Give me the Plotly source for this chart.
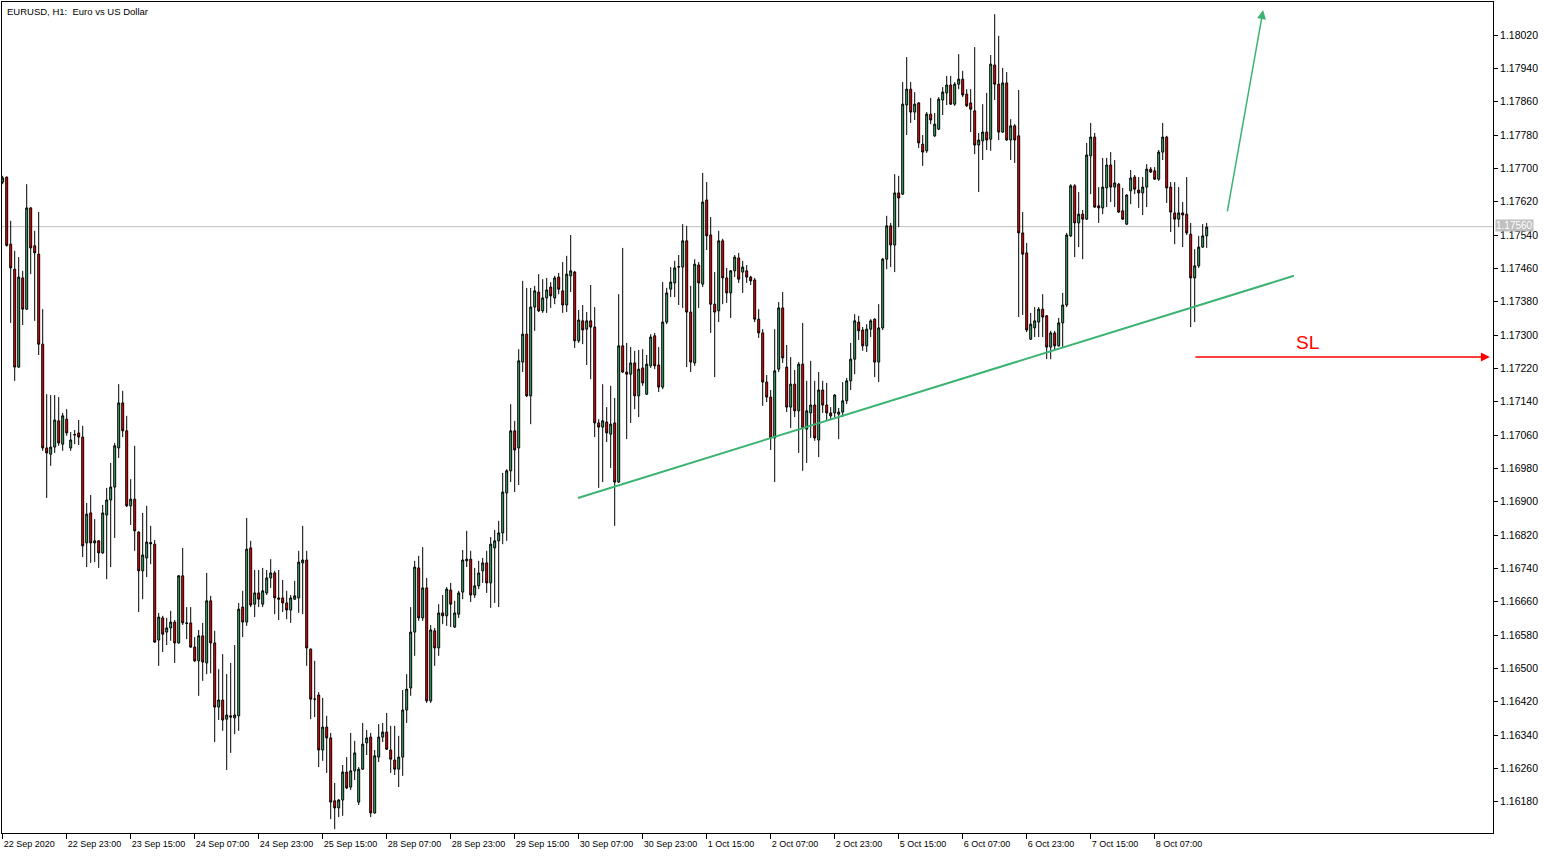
import pandas as pd
import plotly.graph_objects as go

# ---------------- data (EURUSD H1) ----------------
open_ = [1.17667,1.17679,1.17518,1.17458,1.17223,1.17437,1.17362,1.17605,1.17514,1.17494,
1.17278,1.17029,1.17014,1.17031,1.17094,1.17038,1.17098,1.17029,1.17060,1.17065,
1.17055,1.16801,1.16873,1.16801,1.16806,1.16777,1.16868,1.16904,1.16935,1.17029,
1.17137,1.17070,1.16890,1.16906,1.16827,1.16734,1.16765,1.16802,1.16798,1.16568,
1.16621,1.16587,1.16597,1.16611,1.16561,1.16722,1.16609,1.16609,1.16551,1.16518,
1.16578,1.16513,1.16662,1.16561,1.16407,1.16424,1.16378,1.16386,1.16381,1.16386,
1.16647,1.16611,1.16789,1.16654,1.16681,1.16654,1.16681,1.16717,1.16729,1.16669,
1.16669,1.16657,1.16640,1.16666,1.16669,1.16753,1.16760,1.16546,1.16426,1.16436,
1.16304,1.16359,1.16333,1.16182,1.16165,1.16184,1.16251,1.16215,1.16254,1.16179,
1.16258,1.16321,1.16335,1.16153,1.16287,1.16335,1.16347,1.16304,1.16280,1.16258,
1.16287,1.16400,1.16453,1.16587,1.16741,1.16621,1.16693,1.16422,1.16590,1.16549,
1.16633,1.16626,1.16688,1.16599,1.16630,1.16683,1.16758,1.16762,1.16676,1.16698,
1.16734,1.16753,1.16705,1.16789,1.16806,1.16825,1.16921,1.16974,1.17070,1.17029,
1.17235,1.17302,1.17154,1.17367,1.17403,1.17358,1.17389,1.17415,1.17389,1.17439,
1.17406,1.17372,1.17442,1.17451,1.17286,1.17334,1.17314,1.17334,1.17319,1.17089,
1.17079,1.17091,1.17062,1.17089,1.16947,1.17274,1.17211,1.17206,1.17233,1.17154,
1.17221,1.17158,1.17226,1.17298,1.17228,1.17175,1.17331,1.17410,1.17425,1.17463,
1.17463,1.17526,1.17355,1.17233,1.17468,1.17422,1.17624,1.17540,1.17374,1.17358,
1.17526,1.17437,1.17401,1.17454,1.17485,1.17451,1.17454,1.17439,1.17432,1.17338,
1.17305,1.17187,1.17151,1.17053,1.17218,1.17365,1.17223,1.17127,1.17182,1.17118,
1.17230,1.17074,1.17113,1.17132,1.17048,1.17168,1.17132,1.17113,1.17113,1.17110,
1.17115,1.17142,1.17190,1.17242,1.17331,1.17312,1.17274,1.17314,1.17338,1.17235,
1.17317,1.17482,1.17562,1.17516,1.17641,1.17638,1.17852,1.17890,1.17835,1.17857,
1.17758,1.17742,1.17830,1.17778,1.17794,1.17864,1.17881,1.17900,1.17854,1.17902,
1.17914,1.17878,1.17857,1.17838,1.17756,1.17766,1.17787,1.17770,1.17948,1.17902,
1.17787,1.17905,1.17768,1.17802,1.17778,1.17545,1.17497,1.17290,1.17317,1.17331,
1.17362,1.17346,1.17271,1.17305,1.17274,1.17329,1.17372,1.17538,1.17658,1.17569,
1.17590,1.17578,1.17730,1.17775,1.17610,1.17605,1.17653,1.17708,1.17655,1.17662,
1.17598,1.17566,1.17646,1.17679,1.17648,1.17641,1.17655,1.17698,1.17694,1.17674,
1.17739,1.17775,1.17655,1.17593,1.17578,1.17593,1.17590,1.17542,1.17437,1.17466,
1.17511,1.17538]

high = [1.17682,1.17680,1.17574,1.17502,1.17487,1.17454,1.17662,1.17607,1.17550,1.17595,
1.17362,1.17158,1.17156,1.17156,1.17151,1.17113,1.17122,1.17067,1.17072,1.17096,
1.17082,1.16897,1.16916,1.16858,1.16808,1.16892,1.16933,1.16993,1.17041,1.17182,
1.17166,1.17106,1.16954,1.17034,1.16829,1.16873,1.16890,1.16842,1.16808,1.16633,
1.16626,1.16621,1.16638,1.16616,1.16724,1.16789,1.16647,1.16647,1.16575,1.16592,
1.16609,1.16729,1.16674,1.16590,1.16498,1.16534,1.16486,1.16513,1.16556,1.16657,
1.16686,1.16861,1.16806,1.16736,1.16736,1.16741,1.16736,1.16762,1.16734,1.16736,
1.16712,1.16686,1.16676,1.16710,1.16782,1.16842,1.16782,1.16548,1.16518,1.16443,
1.16429,1.16386,1.16345,1.16225,1.16186,1.16268,1.16287,1.16345,1.16326,1.16263,
1.16369,1.16352,1.16345,1.16304,1.16366,1.16369,1.16393,1.16362,1.16362,1.16338,
1.16448,1.16486,1.16647,1.16758,1.16770,1.16791,1.16717,1.16604,1.16597,1.16654,
1.16676,1.16695,1.16705,1.16662,1.16686,1.16784,1.16830,1.16782,1.16741,1.16758,
1.16765,1.16782,1.16815,1.16832,1.16854,1.16969,1.16978,1.17134,1.17094,1.17266,
1.17430,1.17413,1.17413,1.17418,1.17446,1.17434,1.17437,1.17427,1.17442,1.17449,
1.17475,1.17490,1.17540,1.17454,1.17360,1.17372,1.17355,1.17420,1.17367,1.17098,
1.17182,1.17127,1.17178,1.17149,1.17398,1.17509,1.17281,1.17271,1.17262,1.17264,
1.17266,1.17252,1.17302,1.17305,1.17271,1.17427,1.17413,1.17463,1.17478,1.17492,
1.17566,1.17562,1.17418,1.17482,1.17475,1.17689,1.17667,1.17583,1.17451,1.17550,
1.17531,1.17461,1.17456,1.17492,1.17497,1.17478,1.17468,1.17442,1.17437,1.17362,
1.17314,1.17204,1.17168,1.17314,1.17379,1.17403,1.17276,1.17247,1.17216,1.17235,
1.17329,1.17190,1.17238,1.17190,1.17211,1.17190,1.17185,1.17127,1.17158,1.17125,
1.17187,1.17197,1.17281,1.17350,1.17346,1.17319,1.17326,1.17338,1.17340,1.17374,
1.17485,1.17586,1.17569,1.17686,1.17682,1.17907,1.17967,1.17907,1.17883,1.17859,
1.17780,1.17835,1.17869,1.17833,1.17871,1.17895,1.17922,1.17922,1.17907,1.17974,
1.17934,1.17890,1.17890,1.17991,1.17785,1.17854,1.17881,1.17972,1.18070,1.18018,
1.17941,1.17931,1.17818,1.17806,1.17888,1.17595,1.17521,1.17353,1.17367,1.17367,
1.17398,1.17348,1.17310,1.17310,1.17341,1.17401,1.17545,1.17662,1.17662,1.17643,
1.17600,1.17761,1.17809,1.17785,1.17655,1.17725,1.17725,1.17739,1.17720,1.17665,
1.17653,1.17638,1.17696,1.17684,1.17679,1.17679,1.17710,1.17703,1.17703,1.17744,
1.17809,1.17778,1.17667,1.17667,1.17655,1.17619,1.17679,1.17569,1.17506,1.17538,
1.17566,1.17569]

low = [1.17662,1.17512,1.17329,1.17190,1.17221,1.17324,1.17360,1.17446,1.17334,1.17252,
1.17022,1.16909,1.16986,1.17017,1.17034,1.17022,1.17058,1.17022,1.17038,1.17036,
1.16767,1.16743,1.16753,1.16755,1.16741,1.16775,1.16714,1.16743,1.16813,1.17005,
1.17055,1.16887,1.16844,1.16782,1.16635,1.16666,1.16719,1.16750,1.16561,1.16506,
1.16539,1.16556,1.16566,1.16513,1.16559,1.16604,1.16570,1.16549,1.16515,1.16434,
1.16470,1.16486,1.16488,1.16323,1.16376,1.16350,1.16256,1.16297,1.16342,1.16350,
1.16575,1.16602,1.16647,1.16623,1.16647,1.16647,1.16676,1.16693,1.16630,1.16616,
1.16635,1.16618,1.16609,1.16664,1.16633,1.16630,1.16506,1.16378,1.16383,1.16263,
1.16278,1.16249,1.16138,1.16114,1.16143,1.16146,1.16210,1.16208,1.16232,1.16172,
1.16256,1.16292,1.16143,1.16151,1.16275,1.16323,1.16304,1.16249,1.16244,1.16215,
1.16242,1.16369,1.16434,1.16530,1.16614,1.16614,1.16417,1.16417,1.16506,1.16530,
1.16606,1.16602,1.16599,1.16597,1.16621,1.16666,1.16743,1.16659,1.16669,1.16690,
1.16705,1.16681,1.16645,1.16657,1.16647,1.16798,1.16806,1.16947,1.16923,1.16940,
1.17211,1.17151,1.17086,1.17310,1.17355,1.17353,1.17353,1.17365,1.17374,1.17398,
1.17353,1.17355,1.17403,1.17269,1.17281,1.17278,1.17228,1.17194,1.17055,1.16933,
1.16947,1.17043,1.16981,1.16842,1.16945,1.17209,1.17050,1.17089,1.17122,1.17103,
1.17178,1.17156,1.17221,1.17218,1.17163,1.17170,1.17326,1.17391,1.17391,1.17372,
1.17365,1.17223,1.17211,1.17226,1.17365,1.17415,1.17504,1.17305,1.17199,1.17331,
1.17374,1.17377,1.17341,1.17439,1.17425,1.17401,1.17425,1.17420,1.17331,1.17293,
1.17130,1.17139,1.17024,1.16947,1.17211,1.17233,1.17115,1.17077,1.17103,1.17017,
1.16974,1.16993,1.17053,1.17046,1.17007,1.17113,1.17096,1.17096,1.17103,1.17050,
1.17103,1.17134,1.17168,1.17206,1.17288,1.17262,1.17259,1.17295,1.17199,1.17187,
1.17312,1.17458,1.17463,1.17451,1.17559,1.17636,1.17780,1.17809,1.17816,1.17749,
1.17706,1.17737,1.17806,1.17775,1.17792,1.17828,1.17852,1.17852,1.17850,1.17890,
1.17871,1.17847,1.17787,1.17734,1.17643,1.17720,1.17744,1.17742,1.17864,1.17768,
1.17785,1.17766,1.17720,1.17713,1.17343,1.17348,1.17307,1.17288,1.17295,1.17295,
1.17295,1.17242,1.17242,1.17264,1.17272,1.17269,1.17367,1.17535,1.17487,1.17511,
1.17482,1.17576,1.17638,1.17605,1.17569,1.17590,1.17607,1.17619,1.17607,1.17593,
1.17576,1.17564,1.17614,1.17638,1.17605,1.17588,1.17607,1.17689,1.17672,1.17670,
1.17720,1.17617,1.17547,1.17518,1.17559,1.17511,1.17540,1.17319,1.17331,1.17461,
1.17509,1.17509]

close = [1.17677,1.17515,1.17461,1.17223,1.17439,1.17362,1.17605,1.17509,1.17497,1.17278,
1.17029,1.17017,1.17031,1.17096,1.17041,1.17106,1.17065,1.17048,1.17061,1.17055,
1.16794,1.16870,1.16801,1.16806,1.16777,1.16873,1.16904,1.16935,1.17034,1.17137,
1.17070,1.16890,1.16906,1.16830,1.16734,1.16772,1.16803,1.16799,1.16563,1.16623,
1.16582,1.16597,1.16611,1.16561,1.16722,1.16609,1.16608,1.16551,1.16518,1.16578,
1.16515,1.16662,1.16561,1.16407,1.16424,1.16376,1.16388,1.16383,1.16388,1.16642,
1.16611,1.16786,1.16652,1.16681,1.16666,1.16686,1.16717,1.16729,1.16669,1.16666,
1.16657,1.16640,1.16669,1.16674,1.16755,1.16760,1.16549,1.16426,1.16426,1.16304,
1.16359,1.16333,1.16179,1.16165,1.16184,1.16251,1.16213,1.16254,1.16297,1.16258,
1.16318,1.16333,1.16153,1.16290,1.16335,1.16347,1.16306,1.16282,1.16258,1.16287,
1.16400,1.16450,1.16587,1.16743,1.16621,1.16693,1.16422,1.16592,1.16549,1.16633,
1.16626,1.16690,1.16654,1.16633,1.16681,1.16760,1.16762,1.16676,1.16698,1.16729,
1.16753,1.16705,1.16798,1.16806,1.16825,1.16923,1.16974,1.17070,1.17024,1.17238,
1.17302,1.17154,1.17367,1.17406,1.17358,1.17389,1.17408,1.17394,1.17437,1.17410,
1.17372,1.17446,1.17454,1.17286,1.17336,1.17312,1.17334,1.17319,1.17089,1.17079,
1.17094,1.17065,1.17086,1.16947,1.17274,1.17211,1.17206,1.17233,1.17154,1.17218,
1.17185,1.17230,1.17295,1.17226,1.17175,1.17331,1.17401,1.17427,1.17461,1.17464,
1.17526,1.17355,1.17235,1.17470,1.17425,1.17619,1.17538,1.17374,1.17355,1.17526,
1.17437,1.17401,1.17454,1.17487,1.17434,1.17463,1.17439,1.17430,1.17338,1.17305,
1.17187,1.17151,1.17053,1.17214,1.17365,1.17245,1.17127,1.17182,1.17118,1.17230,
1.17077,1.17118,1.17132,1.17053,1.17168,1.17132,1.17113,1.17106,1.17156,1.17115,
1.17142,1.17190,1.17242,1.17334,1.17310,1.17274,1.17314,1.17334,1.17235,1.17317,
1.17482,1.17562,1.17516,1.17641,1.17629,1.17854,1.17890,1.17835,1.17854,1.17761,
1.17739,1.17830,1.17816,1.17806,1.17866,1.17883,1.17900,1.17854,1.17902,1.17914,
1.17876,1.17850,1.17842,1.17756,1.17768,1.17787,1.17768,1.17950,1.17902,1.17787,
1.17905,1.17768,1.17802,1.17768,1.17545,1.17494,1.17312,1.17326,1.17334,1.17362,
1.17343,1.17271,1.17305,1.17274,1.17329,1.17372,1.17540,1.17658,1.17569,1.17590,
1.17578,1.17732,1.17775,1.17607,1.17605,1.17655,1.17708,1.17655,1.17665,1.17595,
1.17578,1.17636,1.17677,1.17650,1.17641,1.17655,1.17698,1.17691,1.17674,1.17739,
1.17775,1.17653,1.17595,1.17578,1.17593,1.17588,1.17545,1.17437,1.17466,1.17511,
1.17538,1.17559]

tick_text = ["22 Sep 2020", "22 Sep 23:00", "23 Sep 15:00", "24 Sep 07:00", "24 Sep 23:00",
             "25 Sep 15:00", "28 Sep 07:00", "28 Sep 23:00", "29 Sep 15:00", "30 Sep 07:00",
             "30 Sep 23:00", "1 Oct 15:00", "2 Oct 07:00", "2 Oct 23:00", "5 Oct 15:00",
             "6 Oct 07:00", "6 Oct 23:00", "7 Oct 15:00", "8 Oct 07:00"]
price_ticks = [1.16180, 1.16260, 1.16340, 1.16420, 1.16500, 1.16580, 1.16660, 1.16740,
               1.16820, 1.16900, 1.16980, 1.17060, 1.17140, 1.17220, 1.17300, 1.17380,
               1.17460, 1.17540, 1.17620, 1.17700, 1.17780, 1.17860, 1.17940, 1.18020]
current_price = 1.17560

# drawing objects on the chart (bar index, price)
trend_start = (143.8, 1.16909)
trend_end = (322.8, 1.17442)
up_arrow_tail = (306.1, 1.17593)
up_arrow_head = (315.1, 1.18080)
sl_arrow_tail = (297.8, 1.17247)
sl_arrow_head = (371.8, 1.17247)
sl_label_pos = (326.1, 1.17281)

# hourly bars, weekends removed
all_hours = pd.date_range("2020-09-22 07:00", "2020-10-08 20:00", freq="h")
bar_times = all_hours[all_hours.dayofweek < 5].strftime("%Y-%m-%d %H:%M").tolist()
n = min(len(bar_times), len(close))
bar_times = bar_times[:n]

GREEN = "#3CB371"
RED = "#FF0000"
FONT = "Liberation Sans, Arial, sans-serif"

fig = go.Figure()
fig.add_trace(go.Candlestick(
    x=bar_times, open=open_[:n], high=high[:n], low=low[:n], close=close[:n],
    increasing=dict(line=dict(color="black", width=1), fillcolor=GREEN),
    decreasing=dict(line=dict(color="black", width=1), fillcolor=RED),
    whiskerwidth=0, showlegend=False, hoverinfo="skip",
))

shapes = [
    dict(type="line", xref="paper", x0=0, x1=1, yref="y", y0=current_price, y1=current_price,
         line=dict(color="#C0C0C0", width=1), layer="below"),
    dict(type="line", xref="x", yref="y", x0=trend_start[0], y0=trend_start[1],
         x1=trend_end[0], y1=trend_end[1], line=dict(color=GREEN, width=2)),
]

annotations = [
    dict(xref="paper", yref="paper", x=0, y=1, xshift=3, yshift=-2, xanchor="left", yanchor="top",
         text="EURUSD, H1: \u00a0Euro vs US Dollar", showarrow=False,
         font=dict(family=FONT, size=9.5, color="black")),
    dict(xref="x", yref="y", x=up_arrow_head[0], y=up_arrow_head[1],
         axref="x", ayref="y", ax=up_arrow_tail[0], ay=up_arrow_tail[1],
         showarrow=True, arrowhead=2, arrowsize=1.2, arrowwidth=1.5, arrowcolor=GREEN, text=""),
    dict(xref="x", yref="y", x=sl_arrow_head[0], y=sl_arrow_head[1],
         axref="x", ayref="y", ax=sl_arrow_tail[0], ay=sl_arrow_tail[1],
         showarrow=True, arrowhead=2, arrowsize=1.2, arrowwidth=1.5, arrowcolor=RED, text=""),
    dict(xref="x", yref="y", x=sl_label_pos[0], y=sl_label_pos[1], text="SL", showarrow=False,
         font=dict(family=FONT, size=19, color=RED)),
    dict(xref="paper", yref="y", x=1, y=current_price, xanchor="left", xshift=2, yshift=1,
         text="%.5f" % current_price, showarrow=False, bgcolor="#C0C0C0", borderpad=0,
         font=dict(family=FONT, size=10, color="white")),
]

fig.update_layout(
    width=1546, height=856,
    margin=dict(l=2, r=53, t=2, b=23, pad=0),
    paper_bgcolor="white", plot_bgcolor="white",
    shapes=shapes, annotations=annotations,
    showlegend=False,
    xaxis=dict(
        type="category", range=[-0.175, 372.575], rangeslider=dict(visible=False),
        tickmode="array", tickvals=bar_times[::16], ticktext=tick_text,
        ticks="outside", ticklen=5, tickcolor="black", tickwidth=1,
        ticklabelposition="outside right", ticklabelstandoff=2,
        tickfont=dict(family=FONT, size=9, color="black"),
        showline=True, linecolor="black", linewidth=1, mirror=True,
        showgrid=False, zeroline=False, fixedrange=True,
    ),
    yaxis=dict(
        side="right", range=[1.161048, 1.180992],
        tickmode="array", tickvals=price_ticks, tickformat=".5f",
        ticks="outside", ticklen=4, tickcolor="black", tickwidth=1,
        tickfont=dict(family=FONT, size=10.5, color="black"),
        showline=True, linecolor="black", linewidth=1, mirror=True,
        showgrid=False, zeroline=False, fixedrange=True,
    ),
)

fig.write_html("out.html", config={"displayModeBar": False},
               post_script="document.body.style.margin='0';document.body.style.overflow='hidden';")
